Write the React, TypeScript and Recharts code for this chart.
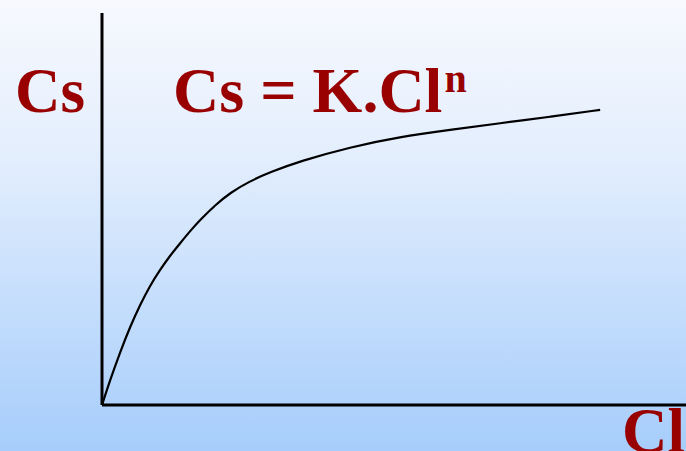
import { LineChart, Line, XAxis, YAxis, ReferenceLine } from "recharts";

// Cl (x) and Cs (y) in arbitrary 0-100 units
const clValues = [0, 1.4, 3.1, 4.8, 6.5, 8.2, 9.9, 11.6, 13.4, 15.1, 16.8, 19.4, 21.9, 25.3, 28.8, 33.9, 42.5, 51, 59.6, 68.2, 76.7, 85.3];
const csValues = [0, 6.4, 13.5, 19.9, 25.5, 30.4, 34.4, 38, 41.3, 44.4, 47.2, 51, 54.1, 57.1, 59.4, 62.2, 65.8, 68.4, 70.2, 71.9, 73.5, 75.3];

const yLabel = "Cs";
const xLabel = "Cl";
const formulaMain = "Cs = K.Cl";
const formulaExp = "n";

const chartData = clValues.map((cl, i) => ({ cl, cs: csValues[i] }));

const RED = "#990000";
const FONT = "'Liberation Serif', 'Times New Roman', serif";

const App = () => {
  return (
    <div
      style={{
        position: "fixed",
        left: 0,
        top: 0,
        width: 686,
        height: 451,
        background: "linear-gradient(to bottom, #f7f9fe 0%, #e3eefd 35%, #a6cdfb 100%)",
        overflow: "hidden",
      }}
    >
      <LineChart
        width={686}
        height={451}
        data={chartData}
        margin={{ top: 13, right: 0, left: 102, bottom: 46 }}
      >
        <XAxis type="number" dataKey="cl" domain={[0, 100]} hide />
        <YAxis type="number" domain={[0, 100]} hide />

        {/* axes drawn as plain lines, no ticks */}
        <ReferenceLine x={0} stroke="#000" strokeWidth={3} />
        <ReferenceLine y={0} stroke="#000" strokeWidth={3} />

        <Line
          type="basis"
          dataKey="cs"
          stroke="#000"
          strokeWidth={2.2}
          dot={false}
          activeDot={false}
          isAnimationActive={false}
        />

        {/* labels */}
        <text x={15} y={112} fill={RED} fontFamily={FONT} fontWeight="bold" fontSize={63}>
          {yLabel}
        </text>
        <text x={173} y={112} fill={RED} fontFamily={FONT} fontWeight="bold" fontSize={64}>
          {formulaMain}
          <tspan fontSize={40} dy={-20} dx={2}>{formulaExp}</tspan>
        </text>
        <text x={622} y={452} fill={RED} fontFamily={FONT} fontWeight="bold" fontSize={63}>
          {xLabel}
        </text>
      </LineChart>
    </div>
  );
};

export default App;
